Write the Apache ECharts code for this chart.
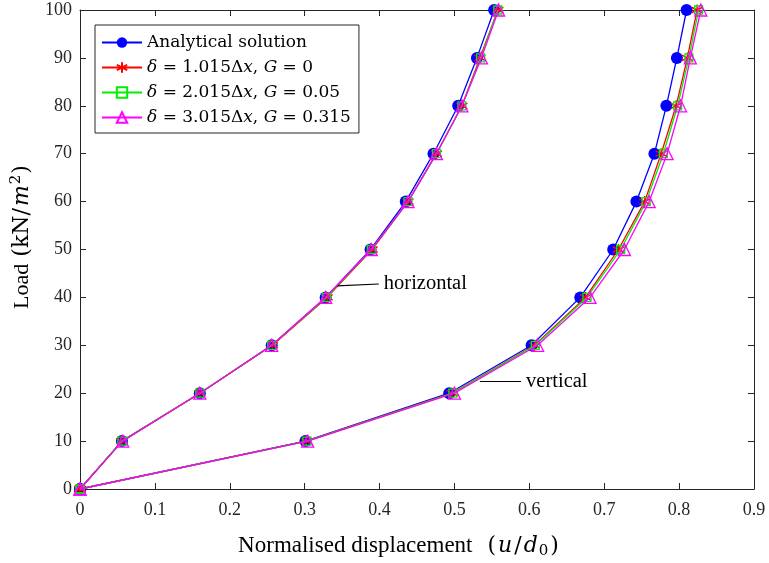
<!DOCTYPE html>
<html>
<head>
<meta charset="utf-8">
<script src="https://cdn.jsdelivr.net/npm/echarts@6/dist/echarts.min.js"></script>
<style>
  html, body { margin: 0; padding: 0; background: #fff; overflow: hidden; }
  #chart { width: 769px; height: 563px; }
</style>
</head>
<body>
<div id="chart"></div>
<script>
// Applied load levels (kN/m^2)
const loads = [0, 10, 20, 30, 40, 50, 60, 70, 80, 90, 100];

// Normalised horizontal displacement u/d0
const analyticalH = [0, 0.056, 0.160, 0.256, 0.328, 0.388, 0.435, 0.472, 0.505, 0.530, 0.553];
const delta1H     = [0, 0.056, 0.160, 0.257, 0.330, 0.390, 0.438, 0.476, 0.510, 0.534, 0.558];
const delta2H     = [0, 0.056, 0.160, 0.256, 0.329, 0.389, 0.438, 0.476, 0.510, 0.535, 0.558];
const delta3H     = [0, 0.057, 0.160, 0.256, 0.328, 0.389, 0.438, 0.476, 0.510, 0.536, 0.559];

// Normalised vertical displacement u/d0
const analyticalV = [0, 0.301, 0.493, 0.603, 0.668, 0.712, 0.743, 0.767, 0.783, 0.797, 0.810];
const delta1V     = [0, 0.302, 0.497, 0.607, 0.675, 0.719, 0.754, 0.776, 0.796, 0.811, 0.824];
const delta2V     = [0, 0.303, 0.498, 0.608, 0.677, 0.722, 0.756, 0.779, 0.798, 0.813, 0.826];
const delta3V     = [0, 0.304, 0.500, 0.611, 0.681, 0.727, 0.760, 0.784, 0.802, 0.815, 0.829];

const xTicks = { min: 0, max: 0.9, interval: 0.1 };
const yTicks = { min: 0, max: 100, interval: 10 };

// Leader lines for the curve labels, in data coordinates
const labelHorizontal = { text: 'horizontal', from: [0.343, 42.4], to: [0.399, 42.8] };
const labelVertical   = { text: 'vertical',   from: [0.534, 22.5], to: [0.589, 22.5] };

const serif = 'Liberation Serif, Times New Roman, serif';
const mathSerif = 'DejaVu Serif, serif';
const asterisk = 'path://M0,-10L0,10M-8.66,-5L8.66,5M-8.66,5L8.66,-5';

const names = ['Analytical solution', 'd1', 'd2', 'd3'];
const legendText = {
  'Analytical solution': 'Analytical solution',
  'd1': '{i|δ} = 1.015Δ{i|x}, {i|G} = 0',
  'd2': '{i|δ} = 2.015Δ{i|x}, {i|G} = 0.05',
  'd3': '{i|δ} = 3.015Δ{i|x}, {i|G} = 0.315'
};

const styles = [
  { color: '#0000ff', symbol: 'circle', size: 12, fill: '#0000ff', bw: 0 },
  { color: '#ff0000', symbol: asterisk, size: 11, fill: 'none', bw: 1.4 },
  { color: '#00ee00', symbol: 'rect', size: 8, fill: 'rgba(0,0,0,0)', bw: 1.3 },
  { color: '#ff00ff', symbol: 'triangle', size: 12, fill: 'rgba(0,0,0,0)', bw: 1.3 }
];

const hSets = [analyticalH, delta1H, delta2H, delta3H];
const vSets = [analyticalV, delta1V, delta2V, delta3V];

function pairs(vals) { return loads.map((l, i) => [vals[i], l]); }

function makeSeries(idx, vals, extra) {
  const s = styles[idx];
  return Object.assign({
    name: names[idx],
    type: 'line',
    data: pairs(vals),
    symbol: s.symbol,
    symbolSize: s.size,
    showSymbol: true,
    lineStyle: { color: s.color, width: 1.3 },
    itemStyle: { color: s.fill === 'none' ? s.color : s.fill, borderColor: s.color, borderWidth: s.bw },
    emphasis: { disabled: true },
    animation: false,
    z: 2 + idx
  }, extra || {});
}

function leader(lbl) {
  return {
    silent: true,
    symbol: ['none', 'none'],
    lineStyle: { color: '#000', width: 1.2, type: 'solid' },
    label: {
      show: true, position: 'end', distance: 5,
      formatter: lbl.text,
      color: '#000', fontFamily: serif, fontSize: 20.5
    },
    data: [[{ coord: lbl.from }, { coord: lbl.to }]],
    animation: false
  };
}

const series = [];
for (let k = 0; k < 4; k++) {
  series.push(makeSeries(k, hSets[k], k === 3 ? { markLine: leader(labelHorizontal) } : null));
  series.push(makeSeries(k, vSets[k], k === 3 ? { markLine: leader(labelVertical) } : null));
}

const axisLine = { show: true, onZero: false, lineStyle: { color: '#262626', width: 1 } };
const tickIn = { show: true, inside: true, length: 6, lineStyle: { color: '#262626' } };

const option = {
  backgroundColor: '#ffffff',
  animation: false,
  grid: { left: 80, right: 15, top: 10, bottom: 74, containLabel: false, outerBoundsMode: 'none' },
  legend: {
    data: names,
    orient: 'vertical',
    left: 95, top: 25,
    padding: [8, 8, 6, 6],
    itemGap: 6,
    itemWidth: 40, itemHeight: 13,
    borderColor: '#262626', borderWidth: 1,
    backgroundColor: '#ffffff',
    selectedMode: false,
    formatter: n => legendText[n],
    textStyle: {
      fontFamily: mathSerif, fontSize: 17, color: '#000', lineHeight: 19,
      rich: { i: { fontFamily: mathSerif, fontSize: 17, fontStyle: 'italic', color: '#000', lineHeight: 19 } }
    }
  },
  xAxis: [{
    type: 'value', min: xTicks.min, max: xTicks.max, interval: xTicks.interval,
    position: 'bottom',
    axisLine, axisTick: tickIn, splitLine: { show: false },
    axisLabel: { color: '#262626', fontFamily: serif, fontSize: 18, margin: 12 },
    name: '{t|Normalised displacement}{g|}{m|(}{i|u}{m|/}{i|d}{s|0}{m|)}',
    nameLocation: 'middle', nameGap: 44,
    nameTextStyle: {
      padding: [0, 36, 0, 0],
      rich: {
        t: { fontFamily: serif, fontSize: 23, color: '#000' },
        g: { width: 14 },
        m: { fontFamily: mathSerif, fontSize: 22, color: '#000', padding: [0, 1, 0, 1] },
        i: { fontFamily: mathSerif, fontSize: 22, fontStyle: 'italic', color: '#000', padding: [0, 1, 0, 1] },
        s: { fontFamily: mathSerif, fontSize: 15, color: '#000', padding: [11, 1, 0, 0] }
      }
    }
  }, {
    type: 'value', min: xTicks.min, max: xTicks.max, interval: xTicks.interval,
    position: 'top',
    axisLine, axisTick: tickIn, axisLabel: { show: false }, splitLine: { show: false }
  }],
  yAxis: [{
    type: 'value', min: yTicks.min, max: yTicks.max, interval: yTicks.interval,
    position: 'left',
    axisLine, axisTick: tickIn, splitLine: { show: false },
    axisLabel: { color: '#262626', fontFamily: serif, fontSize: 18, margin: 8 },
    name: '{t|Load}{g|}{m|(kN/}{i|m}{s|2}{m|)}',
    nameLocation: 'middle', nameGap: 45,
    nameTextStyle: {
      padding: [0, 0, 0, 26],
      rich: {
        t: { fontFamily: serif, fontSize: 22, color: '#000' },
        g: { width: 6 },
        m: { fontFamily: mathSerif, fontSize: 22, color: '#000', padding: [0, 1, 0, 1] },
        i: { fontFamily: mathSerif, fontSize: 22, fontStyle: 'italic', color: '#000', padding: [0, 1, 0, 1] },
        s: { fontFamily: mathSerif, fontSize: 15, color: '#000', padding: [0, 0, 11, 0] }
      }
    }
  }, {
    type: 'value', min: yTicks.min, max: yTicks.max, interval: yTicks.interval,
    position: 'right',
    axisLine, axisTick: tickIn, axisLabel: { show: false }, splitLine: { show: false }
  }],
  series
};

const chart = echarts.init(document.getElementById('chart'), null, { renderer: 'canvas' });
chart.setOption(option);
</script>
</body>
</html>
